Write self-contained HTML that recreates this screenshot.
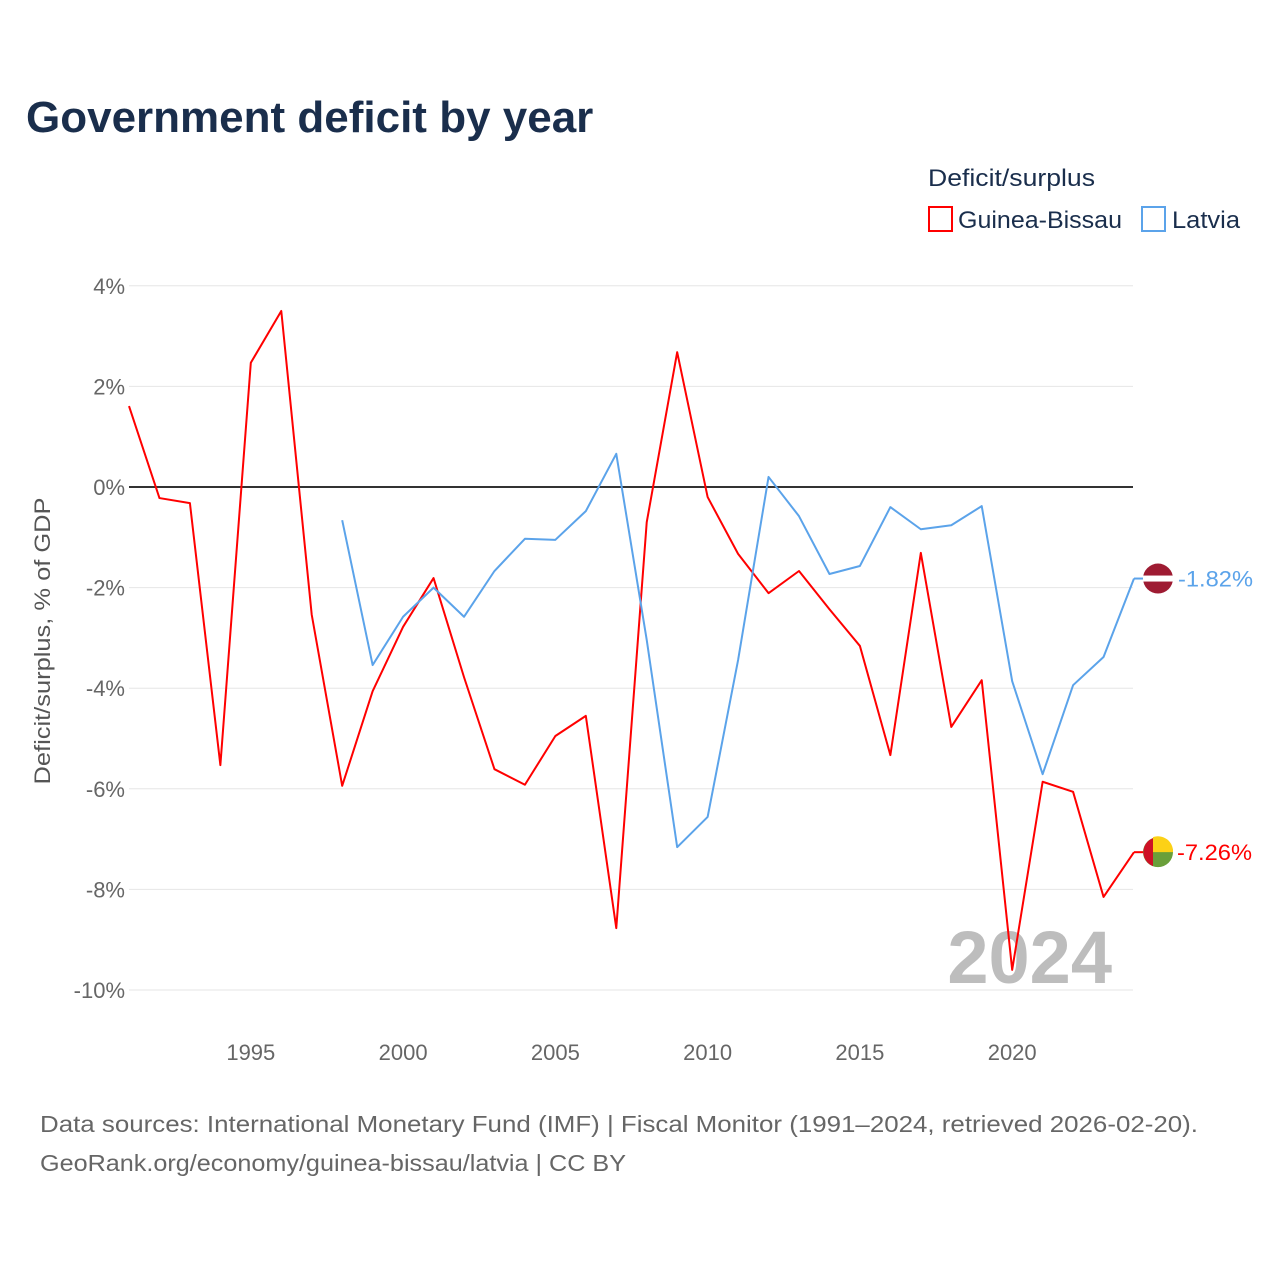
<!DOCTYPE html>
<html><head><meta charset="utf-8">
<style>
html,body{margin:0;padding:0;background:#fff;}
body{width:1280px;height:1280px;overflow:hidden;font-family:"Liberation Sans",sans-serif;}
</style></head>
<body>
<svg id="chart" width="1280" height="1280" xmlns="http://www.w3.org/2000/svg" font-family="Liberation Sans, sans-serif">
<text x="26" y="132" font-size="44" font-weight="bold" fill="#1a2e4c">Government deficit by year</text>
<text x="928" y="186" font-size="24" fill="#1a2e4c" textLength="167" lengthAdjust="spacingAndGlyphs">Deficit/surplus</text>
<g>
<rect x="929" y="207" width="23" height="24" fill="none" stroke="#ff0000" stroke-width="2"/>
<text x="958" y="228" font-size="24" fill="#1a2e4c" textLength="164" lengthAdjust="spacingAndGlyphs">Guinea-Bissau</text></g>
<g>
<rect x="1142" y="207" width="23" height="24" fill="none" stroke="#5ba3ea" stroke-width="2"/>
<text x="1172" y="228" font-size="24" fill="#1a2e4c" textLength="68" lengthAdjust="spacingAndGlyphs">Latvia</text></g>
<text transform="translate(50,641) rotate(-90)" text-anchor="middle" font-size="22" fill="#555" textLength="287" lengthAdjust="spacingAndGlyphs">Deficit/surplus, % of GDP</text>
<text x="1112" y="983" text-anchor="end" font-size="74" font-weight="bold" fill="#bdbdbd">2024</text>
<g id="grid"></g><g id="lines"></g>
<text x="40" y="1132" font-size="23" fill="#666" textLength="1158" lengthAdjust="spacingAndGlyphs">Data sources: International Monetary Fund (IMF) | Fiscal Monitor (1991–2024, retrieved 2026-02-20).</text>
<text x="40" y="1171" font-size="23" fill="#666" textLength="586" lengthAdjust="spacingAndGlyphs">GeoRank.org/economy/guinea-bissau/latvia | CC BY</text>
</svg>
<script>
const years=[];for(let y=1991;y<=2024;y++)years.push(y);
const guineaBissau=[1.61,-0.22,-0.32,-5.53,2.47,3.5,-2.54,-5.94,-4.06,-2.78,-1.81,-3.78,-5.61,-5.92,-4.95,-4.55,-8.77,-0.70,2.68,-0.2,-1.33,-2.11,-1.67,-2.43,-3.16,-5.33,-1.31,-4.77,-3.84,-9.6,-5.86,-6.06,-8.15,-7.26];
const latviaYears=[1998,1999,2000,2001,2002,2003,2004,2005,2006,2007,2008,2009,2010,2011,2012,2013,2014,2015,2016,2017,2018,2019,2020,2021,2022,2023,2024];
const latvia=[-0.66,-3.54,-2.58,-2.0,-2.58,-1.67,-1.03,-1.05,-0.48,0.66,-3.04,-7.16,-6.56,-3.44,0.2,-0.58,-1.73,-1.57,-0.4,-0.84,-0.76,-0.38,-3.86,-5.71,-3.94,-3.38,-1.82];
const yTicks=[4,2,0,-2,-4,-6,-8,-10];
const xTicks=[1995,2000,2005,2010,2015,2020];
const NS="http://www.w3.org/2000/svg";
const X=y=>129+(y-1991)*(1134-129)/33;
const Y=v=>487-v*50.3;
function el(t,a,p){const e=document.createElementNS(NS,t);for(const k in a)e.setAttribute(k,a[k]);p.appendChild(e);return e;}
const grid=document.getElementById('grid'),lines=document.getElementById('lines');
yTicks.forEach(v=>{
 const l=el('line',{x1:129,x2:1133,y1:Y(v),y2:Y(v),stroke:v===0?'#333':'#e6e6e6','stroke-width':v===0?2:1},grid);
 
 
 const t=el('text',{x:125,y:Y(v)+8,'text-anchor':'end','font-size':22,fill:'#666'},grid);
 
 
 t.textContent=v+'%';
});
xTicks.forEach(y=>{
 const t=el('text',{x:X(y),y:1060,'text-anchor':'middle','font-size':22,fill:'#666'},grid);
 
 
 t.textContent=y;
});
function series(xs,vs,color,name){
 const p=el('polyline',{points:xs.map((y,i)=>X(y)+','+Y(vs[i])).join(' '),fill:'none',stroke:color,'stroke-width':2,'stroke-linejoin':'round'},lines);
 
 
 const lv=vs[vs.length-1],ly=Y(lv);
 const c=el('line',{x1:X(xs[xs.length-1]),x2:1150,y1:ly,y2:ly,stroke:color,'stroke-width':2},lines);
 
 
 return ly;
}
const gy=series(years,guineaBissau,'#ff0000','guinea-bissau');
const ly=series(latviaYears,latvia,'#5ba3ea','latvia');
let g=el('g',{},lines);


el('circle',{cx:1158,cy:ly,r:15,fill:'#9e1b32'},g);
el('rect',{x:1143,y:ly-3,width:30,height:6,fill:'#fff'},g);
let t=el('text',{x:1178,y:ly+8,'font-size':22,fill:'#5ba3ea',textLength:75,lengthAdjust:'spacingAndGlyphs'},lines);


t.textContent=latvia[latvia.length-1].toFixed(2)+'%';
g=el('g',{},lines);


el('circle',{cx:1158,cy:gy,r:15,fill:'#6a9f3a'},g);
el('path',{d:`M1153 ${gy-15} A15 15 0 0 1 1173 ${gy} L1153 ${gy} Z`,fill:'#fcd116'},g);
el('path',{d:`M1153 ${gy-14} A15 15 0 0 0 1153 ${gy+14} Z`,fill:'#ce1126'},g);
t=el('text',{x:1177,y:gy+8,'font-size':22,fill:'#ff0000',textLength:75,lengthAdjust:'spacingAndGlyphs'},lines);


t.textContent=guineaBissau[guineaBissau.length-1].toFixed(2)+'%';
</script>
</body></html>
